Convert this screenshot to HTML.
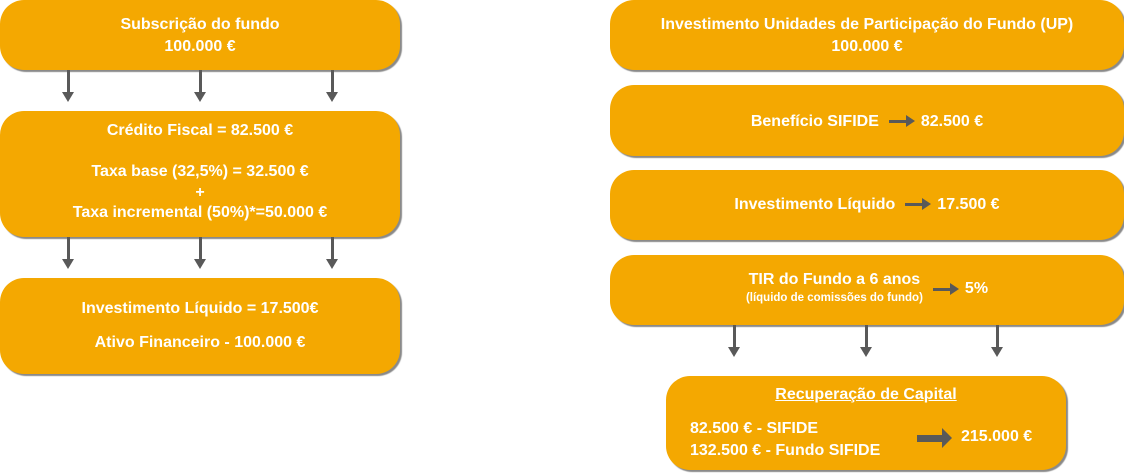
<!DOCTYPE html>
<html><head><meta charset="utf-8"><style>
body{margin:0;width:1124px;height:473px;background:#fff;position:relative;overflow:hidden;font-family:"Liberation Sans",sans-serif;font-weight:bold;color:#fff;font-size:16px}
.b{position:absolute;background:#f4a801;border-radius:24px;box-shadow:2px 2px 1px #8a8a8a;text-align:center;box-sizing:border-box}
.a{position:absolute;width:3px;background:#595959}
.a:after{content:"";position:absolute;left:-5px;bottom:-8px;border-left:6.5px solid transparent;border-right:6.5px solid transparent;border-top:10px solid #595959}
.ra{display:inline-block;width:18px;height:3px;background:#595959;vertical-align:middle;position:relative;margin:0 14px 0 10px}
.ra:after{content:"";position:absolute;right:-8px;top:-5px;border-top:6.5px solid transparent;border-bottom:6.5px solid transparent;border-left:9px solid #595959}
</style></head><body>
<div class="b" style="left:0;top:0;width:400px;height:70px;padding-top:14px;line-height:22px">Subscrição do fundo<br>100.000 €</div>
<div class="a" style="left:67px;top:70px;height:24px"></div>
<div class="a" style="left:199px;top:70px;height:24px"></div>
<div class="a" style="left:331px;top:70px;height:24px"></div>
<div class="b" style="left:0;top:111px;width:400px;height:126px;padding-top:10px;line-height:20.5px">Crédito Fiscal = 82.500 €<br><br>Taxa base (32,5%) = 32.500 €<br>+<br>Taxa incremental (50%)*=50.000 €</div>
<div class="a" style="left:67px;top:237px;height:24px"></div>
<div class="a" style="left:199px;top:237px;height:24px"></div>
<div class="a" style="left:331px;top:237px;height:24px"></div>
<div class="b" style="left:0;top:278px;width:400px;height:96px;padding-top:21px;line-height:20px">Investimento Líquido = 17.500€<br><div style="height:14px"></div>Ativo Financeiro - 100.000 €</div>

<div class="b" style="left:610px;top:0;width:514px;height:70px;padding-top:14px;line-height:22px">Investimento Unidades de Participação do Fundo (UP)<br>100.000 €</div>
<div class="b" style="left:610px;top:85px;width:514px;height:71px;padding-top:28px">Benefício SIFIDE<span class="ra"></span>82.500 €</div>
<div class="b" style="left:610px;top:170px;width:514px;height:70px;padding-top:26px">Investimento Líquido<span class="ra"></span>17.500 €</div>
<div class="b" style="left:610px;top:255px;width:514px;height:70px;padding-top:16px">
<div style="display:inline-block;vertical-align:middle;line-height:17px">TIR do Fundo a 6 anos<br><span style="font-size:11.5px">(líquido de comissões do fundo)</span></div><span class="ra"></span>5%</div>
<div class="a" style="left:733px;top:325px;height:24px"></div>
<div class="a" style="left:865px;top:325px;height:24px"></div>
<div class="a" style="left:996px;top:325px;height:24px"></div>
<div class="b" style="left:666px;top:376px;width:400px;height:94px">
<div style="position:absolute;left:0;right:0;top:10px;text-decoration:underline;font-size:16px">Recuperação de Capital</div>
<div style="position:absolute;left:24px;top:42px;text-align:left;line-height:22px;font-size:16px">82.500 € - SIFIDE<br>132.500 € - Fundo SIFIDE</div>
<div style="position:absolute;left:251px;top:59px;width:27px;height:7px;background:#595959"></div>
<div style="position:absolute;left:276px;top:52px;border-top:10px solid transparent;border-bottom:10px solid transparent;border-left:10px solid #595959"></div>
<div style="position:absolute;left:295px;top:52px;font-size:16px">215.000 €</div>
</div>
</body></html>
